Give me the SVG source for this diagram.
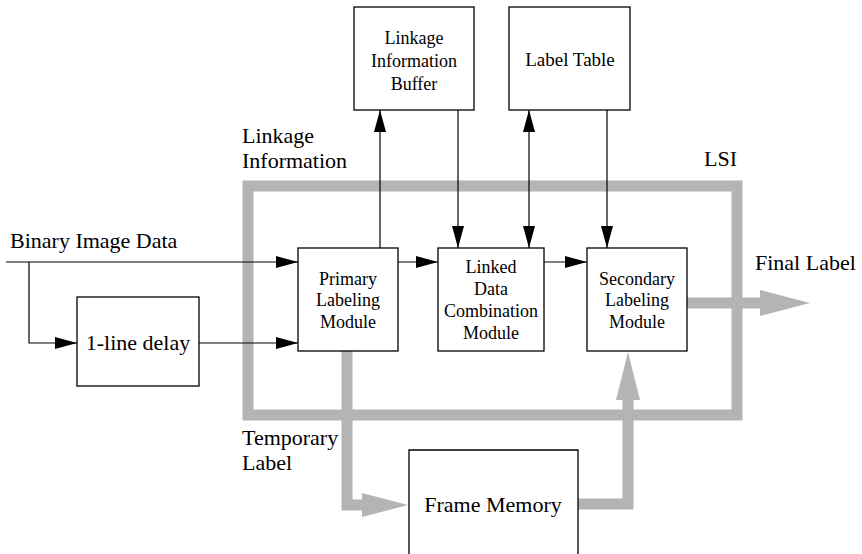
<svg xmlns="http://www.w3.org/2000/svg" width="862" height="554" viewBox="0 0 862 554">
<style>
  .box{fill:#fff;stroke:#000;stroke-width:1.3}
  .ln{fill:none;stroke:#000;stroke-width:1.2}
  .bus{fill:none;stroke:#b4b4b4;stroke-width:11;stroke-linejoin:miter}
  .head{fill:#b4b4b4;stroke:none}
  text{font-family:'Liberation Serif','DejaVu Serif',Times,serif;fill:#000}
  .t{font-size:18px;text-anchor:middle}
  .lbl{font-size:22px}
</style>
<defs>
  <marker id="ah" markerUnits="userSpaceOnUse" markerWidth="22" markerHeight="12" refX="22" refY="6" orient="auto-start-reverse" viewBox="0 0 22 12">
    <path d="M0,0 L22,6 L0,12 z" fill="#000"/>
  </marker>
</defs>

<g id="lsi-frame">
  <rect class="bus" x="248" y="186" width="489" height="229"/>
</g>

<g id="buses">
  <path class="bus" d="M347,351 V505 H363"/>
  <polygon class="head" points="362,493 408,505 362,517"/>
  <path class="bus" d="M578,504 H628 V399"/>
  <polygon class="head" points="616,400 628,352 640,400"/>
  <path class="bus" d="M687,303 H761"/>
  <polygon class="head" points="760,290 810,303 760,316"/>
</g>

<g id="connectors">
  <path class="ln" d="M6,262 H298" marker-end="url(#ah)"/>
  <path class="ln" d="M29,262 V343 H77" marker-end="url(#ah)"/>
  <path class="ln" d="M199,343 H298" marker-end="url(#ah)"/>
  <path class="ln" d="M398,262 H438" marker-end="url(#ah)"/>
  <path class="ln" d="M544,262 H587" marker-end="url(#ah)"/>
  <path class="ln" d="M380,248 V110" marker-end="url(#ah)"/>
  <path class="ln" d="M458,110 V248" marker-end="url(#ah)"/>
  <path class="ln" d="M529,110 V248" marker-start="url(#ah)" marker-end="url(#ah)"/>
  <path class="ln" d="M607,110 V248" marker-end="url(#ah)"/>
</g>

<g id="linkage-buffer">
  <rect class="box" x="354" y="7" width="120" height="103"/>
  <text class="t" x="414" y="44" font-family="Liberation Serif">Linkage</text>
  <text class="t" x="414" y="67">Information</text>
  <text class="t" x="414" y="90">Buffer</text>
</g>

<g id="label-table">
  <rect class="box" x="509" y="7" width="121" height="103"/>
  <text class="t" x="570" y="66" style="font-size:19px">Label Table</text>
</g>

<g id="primary">
  <rect class="box" x="298" y="248" width="100" height="103"/>
  <text class="t" x="348" y="285">Primary</text>
  <text class="t" x="348" y="306">Labeling</text>
  <text class="t" x="348" y="328">Module</text>
</g>

<g id="linked">
  <rect class="box" x="438" y="248" width="106" height="103"/>
  <text class="t" x="491" y="273">Linked</text>
  <text class="t" x="491" y="295">Data</text>
  <text class="t" x="491" y="317">Combination</text>
  <text class="t" x="491" y="339">Module</text>
</g>

<g id="secondary">
  <rect class="box" x="587" y="248" width="100" height="103"/>
  <text class="t" x="637" y="285">Secondary</text>
  <text class="t" x="637" y="306">Labeling</text>
  <text class="t" x="637" y="328">Module</text>
</g>

<g id="delay">
  <rect class="box" x="77" y="297" width="122" height="89"/>
  <text class="t" x="138" y="350" style="font-size:22px">1-line delay</text>
</g>

<g id="frame-memory">
  <path class="box" d="M409,554 V450 H578 V554"/>
  <text class="t" x="493" y="512" style="font-size:22px">Frame Memory</text>
</g>

<g id="labels">
  <text class="lbl" x="10" y="248">Binary Image Data</text>
  <text class="lbl" x="242" y="143">Linkage</text>
  <text class="lbl" x="242" y="168">Information</text>
  <text class="lbl" x="704" y="166">LSI</text>
  <text class="lbl" x="755" y="270">Final Label</text>
  <text class="lbl" x="242" y="445">Temporary</text>
  <text class="lbl" x="242" y="470">Label</text>
</g>
</svg>
